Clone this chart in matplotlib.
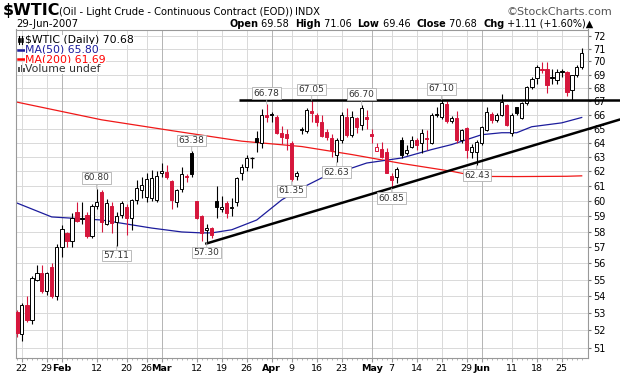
import matplotlib

matplotlib.use("Agg")
import matplotlib.pyplot as plt
import numpy as np
import pandas as pd
from matplotlib.lines import Line2D
from matplotlib.patches import Rectangle
from matplotlib.ticker import FixedLocator, NullLocator


# trading days on the chart (no bar on Apr 6 and May 28)
DATES = pd.bdate_range("2007-01-19", "2007-06-29").drop(
    pd.to_datetime(["2007-04-06", "2007-05-28"])
)

OPENS = [
    53.05, 51.8, 53.5, 52.6, 55.0, 55.4, 54.3, 55.75, 54.0, 57.0,
    57.9, 57.4, 59.25, 58.8, 59.1, 57.7, 59.7, 60.6, 58.5, 59.7,
    58.6, 59.05, 59.6, 58.9, 60.05, 60.7, 60.25, 60.2, 60.05, 61.85,
    61.95, 61.35, 59.95, 60.8, 61.7, 63.3, 60.0, 59.0, 58.1, 58.25,
    60.0, 59.5, 59.85, 59.55, 59.9, 61.9, 62.3, 62.97, 64.35, 64.0,
    66.0, 66.05, 65.85, 64.7, 64.6, 64.0, 61.7, 64.95, 64.8, 66.3,
    66.0, 65.5, 64.77, 64.35, 63.16, 64.2, 65.85, 64.56, 65.77, 65.27,
    65.85, 64.6, 63.44, 63.58, 63.37, 61.7, 61.63, 64.21, 63.3, 63.72,
    64.21, 64.0, 64.3, 64.0, 66.05, 65.85, 66.8, 65.56, 65.77, 64.21,
    65.06, 63.37, 63.37, 64.0, 64.92, 66.06, 65.63, 65.99, 66.71, 64.7,
    66.56, 65.77, 66.86, 68.05, 68.74, 69.45, 69.45, 68.8, 68.6, 69.25,
    69.19, 67.8, 68.96, 69.58,
]
HIGHS = [
    53.2, 53.6, 54.0, 55.2, 55.9, 55.9, 55.5, 56.0, 57.2, 58.4,
    58.0, 59.2, 59.9, 59.9, 59.3, 59.8, 60.8, 60.7, 60.1, 59.9,
    59.3, 60.0, 59.8, 60.1, 61.4, 61.6, 61.9, 62.1, 62.0, 62.6,
    62.4, 61.4, 60.8, 62.3, 61.8, 63.38, 60.0, 59.1, 58.5, 58.3,
    61.0, 60.3, 60.0, 60.2, 61.6, 62.5, 63.1, 63.0, 64.8, 66.4,
    66.78, 66.2, 66.0, 65.15, 65.0, 64.1, 62.0, 65.1, 66.5, 67.05,
    66.1, 66.0, 65.0, 64.6, 64.3, 66.2, 66.5, 66.3, 65.85, 66.70,
    66.35, 65.0, 63.95, 64.07, 63.65, 61.9, 62.3, 64.4, 63.8, 64.5,
    64.3, 64.95, 64.9, 66.15, 66.56, 67.10, 67.0, 65.9, 66.3, 65.0,
    65.1, 63.9, 64.2, 65.2, 66.6, 66.2, 66.1, 67.5, 66.8, 66.1,
    66.6, 66.9, 68.1, 68.8, 69.7, 69.95, 69.95, 69.4, 69.4, 69.4,
    69.3, 69.0, 69.7, 71.06,
]
LOWS = [
    51.6, 51.4, 52.5, 52.4, 54.9, 54.2, 54.1, 53.9, 53.8, 56.4,
    57.0, 57.0, 58.6, 58.5, 57.6, 57.6, 59.5, 58.0, 58.4, 57.9,
    57.11, 58.9, 57.8, 58.1, 59.8, 60.2, 59.9, 60.0, 59.9, 61.6,
    61.5, 59.5, 59.6, 60.6, 61.3, 61.6, 58.8, 57.4, 57.30, 57.6,
    58.9, 59.3, 58.9, 59.0, 59.7, 61.4, 62.0, 62.2, 63.35, 63.6,
    65.5, 65.5, 64.6, 63.9, 63.5, 61.35, 61.4, 64.6, 64.7, 65.5,
    65.2, 64.4, 64.2, 63.0, 62.63, 64.0, 64.4, 64.4, 64.7, 64.9,
    65.0, 64.0, 63.4, 62.95, 61.85, 60.85, 61.2, 62.95, 63.1, 63.6,
    63.5, 63.3, 63.5, 63.9, 65.8, 65.7, 65.4, 65.4, 63.95, 64.0,
    62.9, 62.9, 62.43, 63.8, 64.8, 65.4, 65.5, 65.9, 65.2, 64.5,
    66.0, 65.7, 66.7, 67.9, 68.3, 69.1, 67.6, 68.3, 68.3, 68.8,
    67.4, 67.08, 68.8, 69.46,
]
CLOSES = [
    51.85, 53.5, 52.6, 55.1, 55.4, 54.3, 55.4, 54.0, 57.0, 58.2,
    57.4, 58.9, 58.7, 58.9, 57.7, 59.7, 59.9, 58.6, 59.85, 58.55,
    59.0, 59.85, 58.9, 60.05, 60.85, 61.05, 61.5, 61.55, 61.7, 62.0,
    61.6, 60.05, 60.75, 61.8, 61.6, 61.8, 58.9, 57.9, 58.25, 57.8,
    59.6, 59.6, 59.2, 59.6, 61.55, 62.3, 62.95, 62.95, 64.05, 66.0,
    65.85, 66.0, 64.7, 64.4, 64.35, 61.5, 61.9, 64.9, 66.35, 66.15,
    65.5, 64.5, 64.42, 63.51, 64.2, 66.0, 64.56, 65.85, 65.13, 66.5,
    65.7, 64.5, 63.72, 63.02, 61.88, 61.4, 62.13, 63.16, 63.5, 64.21,
    63.86, 64.7, 64.25, 66.0, 66.0, 66.86, 65.56, 65.77, 64.21, 64.92,
    63.51, 63.72, 64.07, 65.13, 66.2, 65.63, 65.99, 66.93, 65.27, 65.99,
    66.13, 66.86, 68.05, 68.67, 69.58, 69.35, 68.2, 68.7, 69.2, 69.2,
    67.65, 68.96, 69.57, 70.68,
]

# moving averages (bar index, value)
MA50_DAY = [0, 7, 17, 27, 33, 37, 39, 43, 48, 53, 57, 61, 63, 70, 77, 83, 87, 90, 93, 97, 100, 103, 109, 113]
MA50_VAL = [59.87, 58.95, 58.75, 58.23, 57.98, 57.92, 57.92, 58.12, 58.75, 60.07, 60.87, 61.55, 61.76,
            62.57, 62.92, 63.51, 63.86, 64.21, 64.56, 64.70, 64.70, 65.13, 65.41, 65.80]
MA200_DAY = [0, 17, 31, 45, 57, 67, 77, 87, 90, 93, 100, 110, 113]
MA200_VAL = [66.93, 65.63, 64.85, 64.10, 63.72, 63.16, 62.54, 62.00, 61.80, 61.65, 61.64, 61.66, 61.69]

# hand drawn trend lines (bar index, price)
RESIST_DAY = [44.5, 120.7]
RESIST_VAL = [67.05, 67.05]
SUPPORT_DAY = [37.7, 120.7]
SUPPORT_VAL = [57.22, 65.66]

# labelled highs and lows
PEAK_DAY = [16, 20, 35, 38, 50, 55, 59, 64, 69, 75, 85, 92]
PEAK_VAL = [60.80, 57.11, 63.38, 57.30, 66.78, 61.35, 67.05, 62.63, 66.70, 60.85, 67.10, 62.43]
PEAK_SIDE = ["hi", "lo", "hi", "lo", "hi", "lo", "hi", "lo", "hi", "lo", "hi", "lo"]

TICK_DATES = [
    "2007-01-22", "2007-01-29", "2007-02-01", "2007-02-12", "2007-02-20", "2007-02-26",
    "2007-03-01", "2007-03-12", "2007-03-19", "2007-03-26", "2007-04-02", "2007-04-09",
    "2007-04-16", "2007-04-23", "2007-05-01", "2007-05-07", "2007-05-14", "2007-05-21",
    "2007-05-29", "2007-06-01", "2007-06-11", "2007-06-18", "2007-06-25",
]
TICK_LABELS = [
    "22", "29", "Feb", "12", "20", "26", "Mar", "12", "19", "26", "Apr", "9",
    "16", "23", "May", "7", "14", "21", "29", "Jun", "11", "18", "25",
]
MONTHS = {"Feb", "Mar", "Apr", "May", "Jun"}

RED = "#d6163c"
BLUE = "#1c1c9c"
MA_RED = "#f01818"
W, H = 620, 376


def fx(px):
    return px / W


def fy(py):
    return 1 - py / H


fig = plt.figure(figsize=(W / 100, H / 100), dpi=100)
ax = fig.add_axes([fx(16), fy(358), 572 / W, (358 - 29.5) / H])
ax.set_yscale("log")
ax.set_ylim(50.44, 72.52)
ax.set_xlim(-0.14, 114.26)

# grid
for p in range(51, 73):
    ax.axhline(p, color="#d9d9d9", lw=0.7, zorder=0)
tick_pos = [DATES.get_loc(pd.Timestamp(d)) for d in TICK_DATES]
for pos, lab in zip(tick_pos, TICK_LABELS):
    ax.axvline(pos, color="#b4b4b4" if lab in MONTHS else "#d9d9d9", lw=0.7, zorder=0)

# moving averages
ax.plot(MA200_DAY, MA200_VAL, color=MA_RED, lw=0.9, zorder=1)
ax.plot(MA50_DAY, MA50_VAL, color=BLUE, lw=0.9, zorder=1)

# candles
prev = None
for i, (o, h, l, c) in enumerate(zip(OPENS, HIGHS, LOWS, CLOSES)):
    col = RED if (prev is None or c < prev) else "black"
    ax.vlines(i, l, h, color=col, lw=0.8, zorder=2)
    lo, hi = min(o, c), max(o, c)
    if hi - lo < 0.04:
        ax.hlines(lo, i - 0.38, i + 0.38, color=col, lw=0.9, zorder=3)
    else:
        face = col if c < o else "white"
        ax.add_patch(Rectangle((i - 0.36, lo), 0.72, hi - lo, facecolor=face,
                               edgecolor=col, lw=0.7, zorder=3))
    prev = c

# trend lines run out past the price axis
ax.plot(RESIST_DAY, RESIST_VAL, color="black", lw=1.8, zorder=4, clip_on=False,
        solid_capstyle="butt")
ax.plot(SUPPORT_DAY, SUPPORT_VAL, color="black", lw=1.8, zorder=4, clip_on=False,
        solid_capstyle="butt")

# high / low labels
for d, v, side in zip(PEAK_DAY, PEAK_VAL, PEAK_SIDE):
    dy = 11 if side == "hi" else -10
    ax.annotate(f"{v:.2f}", xy=(d, v), xytext=(0, dy), textcoords="offset pixels",
                ha="center", va="center", fontsize=6.5, color="#333333", zorder=6,
                bbox=dict(boxstyle="square,pad=0.15", fc="white", ec="#b0b0b0", lw=0.6),
                arrowprops=dict(arrowstyle="-", color="#b0b0b0", lw=0.6, shrinkA=0, shrinkB=0))

# axes styling
for s in ax.spines.values():
    s.set_color("#999999")
    s.set_linewidth(0.8)
ax.yaxis.tick_right()
ax.yaxis.set_major_locator(FixedLocator(range(51, 73)))
ax.yaxis.set_minor_locator(NullLocator())
ax.set_yticklabels([str(p) for p in range(51, 73)])
ax.tick_params(axis="y", which="major", length=2.5, pad=1.5, labelsize=7, color="#777777")
ax.set_xticks(tick_pos)
ax.set_xticklabels(TICK_LABELS)
for lab in ax.get_xticklabels():
    if lab.get_text() in MONTHS:
        lab.set_fontweight("bold")
ax.set_xticks(np.arange(len(DATES)), minor=True)
ax.tick_params(axis="x", which="major", length=3, pad=1.5, labelsize=6.8, color="#999999")
ax.tick_params(axis="x", which="minor", length=1.5, color="#aaaaaa")

# legend in the top left corner
legend_rows = [
    ("$WTIC (Daily) 70.68", "black"),
    ("MA(50) 65.80", BLUE),
    ("MA(200) 61.69", "red"),
    ("Volume undef", "#333333"),
]
for n, (txt, col) in enumerate(legend_rows):
    yy = 40 + n * 9.5
    fig.text(fx(25), fy(yy), txt, fontsize=7.8, color=col, va="center", ha="left",
             bbox=dict(boxstyle="square,pad=0.02", fc="white", ec="none"), zorder=7)
    if n in (1, 2):
        fig.add_artist(Line2D([fx(18), fx(24)], [fy(yy), fy(yy)], color=col, lw=1.8))
fig.add_artist(Line2D([fx(19), fx(19)], [fy(36), fy(44)], color="black", lw=0.8))
fig.add_artist(Rectangle((fx(18), fy(42)), fx(2), 4 / H, fc="black", ec="black", lw=0.5))
fig.add_artist(Line2D([fx(22), fx(22)], [fy(36), fy(44)], color="black", lw=0.8))
fig.add_artist(Rectangle((fx(21), fy(42)), fx(2), 4 / H, fc="white", ec="black", lw=0.5))
for bx, bh in [(18, 5), (20.5, 7), (23, 4)]:
    fig.add_artist(Rectangle((fx(bx), fy(72)), fx(1.6), bh / H, fc="#555555", ec="none"))

# title lines
fig.text(fx(3), fy(11), "$WTIC", fontsize=11.5, fontweight="bold", va="center")
fig.text(fx(59), fy(12), "(Oil - Light Crude - Continuous Contract (EOD))", fontsize=7.2, va="center")
fig.text(fx(295), fy(12), "INDX", fontsize=7.2, va="center")
fig.text(fx(612), fy(12), "\u00a9StockCharts.com", fontsize=8, color="#555555", ha="right", va="center")
fig.text(fx(16), fy(24), "29-Jun-2007", fontsize=7.3, va="center")

pieces = [
    ("Open", True), (" 69.58  ", False), ("High", True), (" 71.06  ", False),
    ("Low", True), (" 69.46  ", False), ("Close", True), (" 70.68  ", False),
    ("Chg", True), (" +1.11 (+1.60%)\u25b2", False),
]
renderer = fig.canvas.get_renderer()
xpos = 229
for txt, bold in pieces:
    t = fig.text(fx(xpos), fy(24), txt, fontsize=7.0, va="center", ha="left",
                 fontweight="bold" if bold else "normal")
    xpos += t.get_window_extent(renderer).width

fig.savefig("out.png", dpi=100)
